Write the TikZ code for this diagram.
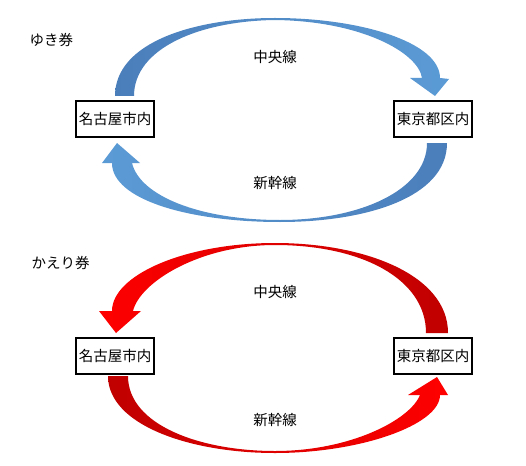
\documentclass[tikz,border=0pt]{standalone}
\usepackage{fontspec}
\newfontfamily\jpfont{Noto Sans CJK JP}
\usepackage{xcolor}
\definecolor{blueDark}{HTML}{4A7EBB}
\definecolor{blueLight}{HTML}{5B9BD5}
\definecolor{redDark}{HTML}{C00000}
\definecolor{redLight}{HTML}{FF0000}
\usepackage{tikz}
\usetikzlibrary{positioning}

\begin{document}
\begin{tikzpicture}[x=1pt, y=-1pt, font=\jpfont\fontsize{14.5}{17}\selectfont,
  station/.style={draw, line width=2pt, minimum width=78pt, minimum height=36pt, inner sep=0pt}]
  \useasboundingbox (0,0) rectangle (526,465);

  % ゆき券
  \node[anchor=west] (ticketGo) at (26, 40) {ゆき券};
  \node[station] (nagoyaGo) at (115, 119) {名古屋市内};
  \node[station] (tokyoGo)  at (433, 119) {東京都区内};
  \node (chuoGo)       at (275,  57) {中央線};
  \node (shinkansenGo) at (275, 183) {新幹線};

  % Nagoya -> Tokyo (top)
  \shade[left color=blueDark, right color=blueLight]
    (115,96) .. controls (115,42) and (195,18) .. (275,18)
    .. controls (360,18) and (440,42) .. (440,78)
    -- (449,79) -- (435,96) -- (410,78) -- (422,78)
    .. controls (418,52) and (360,21) .. (275,20)
    .. controls (200,21) and (134,48) .. (134,96) -- cycle;
  % Tokyo -> Nagoya (bottom)
  \shade[left color=blueLight, right color=blueDark]
    (447,143) .. controls (447,198) and (365,222) .. (280,222)
    .. controls (190,222) and (112,200) .. (112,163)
    -- (102,163) -- (117,143) -- (140,163) -- (132,163)
    .. controls (140,196) and (200,220) .. (280,220)
    .. controls (360,220) and (427,190) .. (427,143) -- cycle;

  % かえり券
  \node[anchor=west] (ticketBack) at (28, 263) {かえり券};
  \node[station] (nagoyaBack) at (115, 355.5) {名古屋市内};
  \node[station] (tokyoBack)  at (433, 355.5) {東京都区内};
  \node (chuoBack)       at (275, 292) {中央線};
  \node (shinkansenBack) at (275, 420) {新幹線};

  % Tokyo -> Nagoya (top)
  \shade[left color=redLight, right color=redDark]
    (448,333) .. controls (448,275) and (365,243) .. (275,243)
    .. controls (185,243) and (112,275) .. (112,311)
    -- (99,311) -- (116,333) -- (141,311) -- (133,311)
    .. controls (140,282) and (200,245) .. (275,245)
    .. controls (360,245) and (426,278) .. (426,333) -- cycle;
  % Nagoya -> Tokyo (bottom)
  \shade[left color=redDark, right color=redLight]
    (108,376) .. controls (108,425) and (190,453) .. (275,453)
    .. controls (360,453) and (440,425) .. (440,395)
    -- (448,395) -- (437,377) -- (408,395) -- (420,395)
    .. controls (410,420) and (350,451) .. (275,451)
    .. controls (200,451) and (128,425) .. (128,376) -- cycle;
\end{tikzpicture}
\end{document}
